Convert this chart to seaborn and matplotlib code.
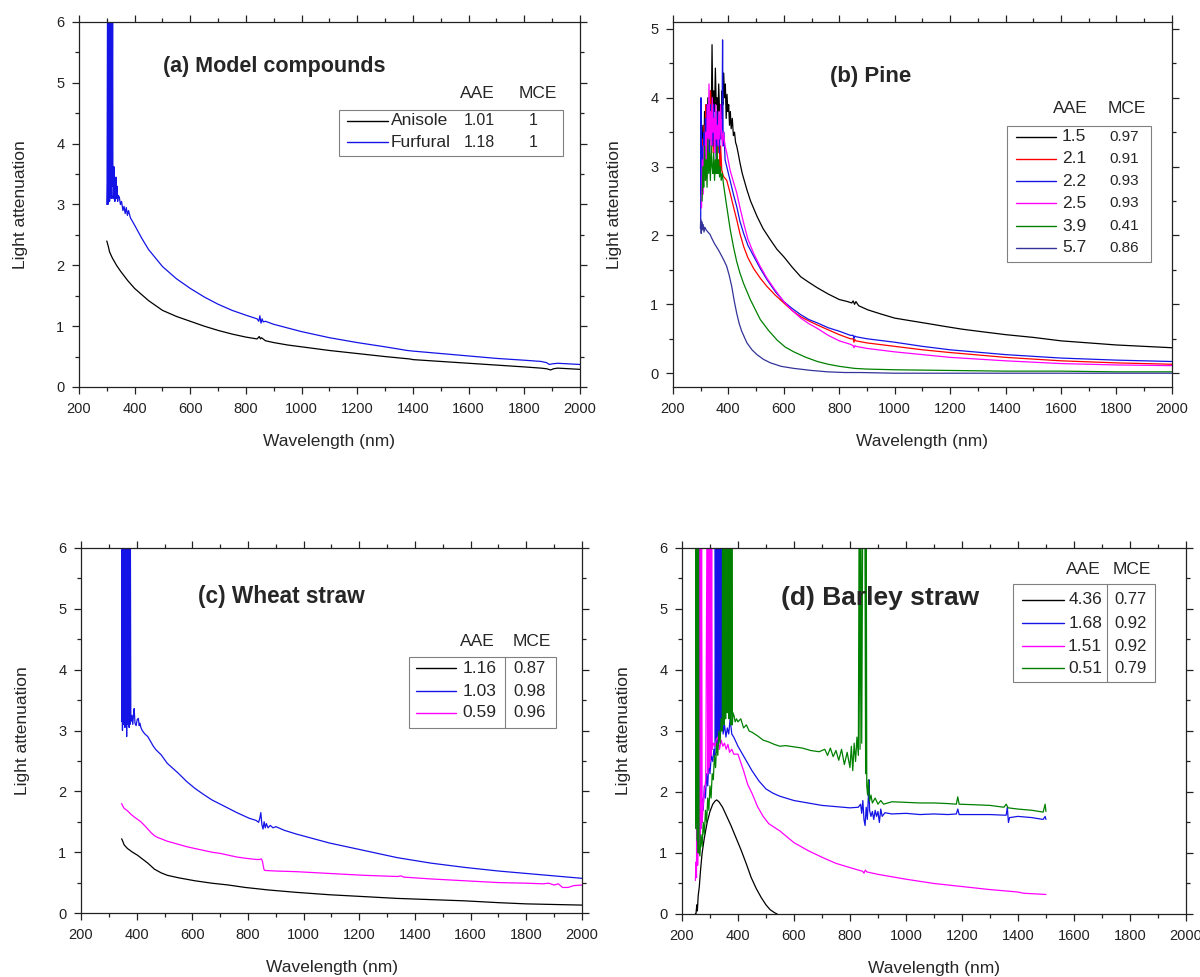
import matplotlib
matplotlib.use("Agg")
import matplotlib.pyplot as plt
import seaborn as sns
from matplotlib.patches import Rectangle
from matplotlib.lines import Line2D
from matplotlib.ticker import MultipleLocator

sns.set_style("ticks")
plt.rcParams['font.family'] = ['Liberation Sans', 'DejaVu Sans']

# ---------------- data (wavelength nm, light attenuation) ----------------
# (a) model compounds
anisole = [(300, 2.40), (303, 2.35), (306, 2.30), (310, 2.22), (320, 2.12), (335, 2.00), (350, 1.90),
           (375, 1.75), (400, 1.62), (450, 1.42), (500, 1.26), (550, 1.16), (600, 1.08), (650, 1.00),
           (700, 0.93), (750, 0.87), (800, 0.82), (840, 0.79), (848, 0.83), (852, 0.79), (856, 0.81),
           (870, 0.76), (900, 0.73), (950, 0.69), (1000, 0.66), (1100, 0.60), (1200, 0.55), (1300, 0.50),
           (1390, 0.46), (1400, 0.45), (1500, 0.42), (1600, 0.39), (1700, 0.36), (1800, 0.33),
           (1860, 0.31), (1880, 0.30), (1895, 0.28), (1905, 0.30), (1920, 0.31), (2000, 0.29)]
furfural = [(300, 3.0), (301, 3.35), (303, 7), (304, 3.0), (306, 7), (307, 3.1), (309, 7), (310, 3.05),
            (312, 7), (313, 3.2), (315, 7), (316, 3.1), (318, 7), (319, 3.3), (321, 7), (322, 3.1),
            (324, 3.15), (326, 3.62), (327, 3.1), (329, 3.05), (331, 3.1), (333, 3.45), (335, 3.1),
            (337, 3.3), (339, 3.05), (341, 3.15), (345, 3.12), (349, 3.0), (353, 3.05), (358, 2.9),
            (362, 2.97), (366, 2.85), (370, 2.95), (374, 2.82), (378, 2.9), (385, 2.78), (390, 2.74),
            (400, 2.66), (425, 2.45), (450, 2.26), (475, 2.12), (500, 1.98), (550, 1.78), (600, 1.62),
            (650, 1.48), (700, 1.36), (750, 1.26), (800, 1.18), (840, 1.12), (846, 1.08), (850, 1.17),
            (854, 1.05), (858, 1.12), (862, 1.07), (870, 1.08), (900, 1.03), (950, 0.97), (1000, 0.91),
            (1100, 0.81), (1200, 0.73), (1300, 0.66), (1380, 0.60), (1400, 0.59), (1500, 0.55),
            (1600, 0.51), (1700, 0.47), (1800, 0.44), (1860, 0.42), (1880, 0.40), (1890, 0.37),
            (1900, 0.38), (1920, 0.39), (2000, 0.37)]

# (b) pine
pine_15 = [(305, 3.2), (308, 3.6), (311, 3.0), (314, 3.8), (317, 3.3), (320, 3.9), (323, 3.4), (326, 4.0),
           (329, 3.5), (332, 3.7), (335, 4.1), (338, 3.6), (341, 4.77), (344, 3.7), (347, 4.1), (350, 3.8),
           (353, 4.43), (356, 3.9), (359, 4.0), (362, 3.6), (365, 4.2), (368, 3.8), (371, 3.9), (374, 3.7),
           (377, 4.1), (380, 3.9), (383, 4.36), (386, 4.0), (389, 4.2), (392, 3.7), (395, 4.05), (398, 3.8),
           (401, 3.9), (404, 3.6), (407, 3.8), (410, 3.55), (414, 3.7), (418, 3.45), (422, 3.5), (426, 3.35),
           (430, 3.3), (435, 3.2), (442, 3.05), (450, 2.9), (467, 2.66), (480, 2.5), (503, 2.28), (525, 2.1),
           (551, 1.94), (575, 1.8), (600, 1.69), (630, 1.54), (661, 1.40), (690, 1.32), (721, 1.24),
           (760, 1.15), (800, 1.07), (830, 1.04), (845, 1.02), (850, 1.05), (855, 1.0), (860, 1.04),
           (870, 0.98), (903, 0.92), (950, 0.86), (1000, 0.80), (1060, 0.76), (1121, 0.72), (1180, 0.68),
           (1242, 0.64), (1300, 0.61), (1400, 0.56), (1500, 0.52), (1600, 0.47), (1700, 0.44),
           (1800, 0.41), (1900, 0.39), (2000, 0.37)]
pine_21 = [(303, 2.6), (306, 3.4), (309, 2.8), (312, 3.6), (315, 3.0), (318, 3.9), (321, 3.2), (324, 3.7),
           (327, 3.1), (330, 3.8), (333, 3.3), (336, 4.1), (339, 3.4), (342, 3.9), (345, 3.2), (348, 3.6),
           (351, 3.3), (354, 3.8), (357, 3.1), (360, 3.5), (363, 3.2), (366, 3.7), (369, 3.0), (372, 3.3),
           (376, 2.95), (382, 2.86), (394, 2.8), (406, 2.62), (418, 2.42), (430, 2.23), (442, 2.02),
           (455, 1.84), (470, 1.68), (491, 1.52), (515, 1.38), (539, 1.26), (570, 1.13), (600, 1.02),
           (630, 0.91), (661, 0.82), (690, 0.76), (721, 0.70), (760, 0.63), (800, 0.56), (840, 0.50),
           (850, 0.50), (853, 0.45), (856, 0.49), (860, 0.47), (900, 0.44), (1000, 0.39), (1100, 0.34),
           (1200, 0.30), (1400, 0.23), (1600, 0.18), (1800, 0.15), (2000, 0.13)]
pine_22 = [(300, 2.1), (301, 4.0), (302, 2.6), (305, 3.3), (308, 2.7), (311, 3.5), (314, 2.9), (317, 3.7),
           (320, 3.1), (323, 3.9), (326, 3.3), (329, 3.6), (332, 3.2), (335, 3.9), (338, 3.4), (341, 3.7),
           (344, 3.3), (347, 3.9), (350, 3.4), (353, 3.6), (356, 3.1), (359, 3.8), (362, 3.3), (365, 3.5),
           (368, 3.2), (371, 3.7), (374, 3.4), (377, 3.6), (379, 4.84), (381, 3.3), (384, 3.5), (388, 3.1),
           (394, 3.0), (406, 2.8), (418, 2.6), (430, 2.42), (442, 2.2), (455, 2.03), (470, 1.86),
           (491, 1.70), (515, 1.52), (539, 1.36), (570, 1.18), (600, 1.04), (630, 0.94), (661, 0.85),
           (690, 0.78), (721, 0.73), (760, 0.66), (800, 0.61), (840, 0.55), (850, 0.55), (853, 0.50),
           (856, 0.54), (860, 0.53), (900, 0.50), (1000, 0.45), (1100, 0.39), (1200, 0.34), (1400, 0.27),
           (1600, 0.22), (1800, 0.19), (2000, 0.17)]
pine_25 = [(303, 2.4), (306, 3.1), (309, 2.6), (312, 3.3), (315, 2.8), (318, 3.5), (321, 3.0), (324, 3.9),
           (327, 3.2), (330, 4.2), (333, 3.4), (336, 3.8), (339, 3.3), (342, 4.0), (345, 3.5), (348, 3.7),
           (351, 3.2), (354, 3.9), (357, 3.4), (360, 3.6), (363, 3.3), (366, 3.8), (369, 3.4), (372, 3.9),
           (375, 3.5), (378, 3.3), (382, 3.5), (388, 3.3), (394, 3.2), (406, 2.95), (418, 2.78),
           (430, 2.62), (442, 2.4), (455, 2.18), (470, 1.95), (491, 1.74), (515, 1.55), (539, 1.38),
           (570, 1.2), (600, 1.04), (630, 0.91), (661, 0.80), (690, 0.72), (721, 0.65), (760, 0.55),
           (800, 0.47), (840, 0.42), (850, 0.40), (853, 0.37), (856, 0.40), (860, 0.39), (900, 0.36),
           (1000, 0.31), (1100, 0.27), (1200, 0.23), (1400, 0.18), (1600, 0.14), (1800, 0.12), (2000, 0.11)]
pine_39 = [(305, 2.5), (308, 3.0), (311, 2.7), (314, 3.3), (317, 2.8), (320, 3.1), (323, 2.7), (326, 3.4),
           (329, 2.9), (332, 3.2), (335, 2.8), (338, 3.3), (341, 3.0), (344, 2.9), (347, 3.2), (350, 2.8),
           (353, 3.1), (356, 2.9), (359, 3.3), (362, 2.9), (365, 3.1), (368, 2.85), (371, 3.0), (374, 2.8),
           (378, 2.9), (382, 2.75), (394, 2.42), (406, 2.1), (418, 1.84), (430, 1.62), (442, 1.45),
           (455, 1.3), (479, 1.07), (500, 0.9), (515, 0.78), (545, 0.62), (576, 0.48), (605, 0.38),
           (636, 0.31), (680, 0.23), (721, 0.17), (760, 0.13), (800, 0.10), (855, 0.07), (900, 0.06),
           (1000, 0.05), (1200, 0.04), (1400, 0.03), (1600, 0.03), (1800, 0.02), (2000, 0.02)]
pine_57 = [(299, 2.1), (300, 2.23), (302, 2.03), (304, 2.2), (306, 2.08), (309, 2.16), (312, 2.05),
           (315, 2.12), (320, 2.08), (326, 2.05), (333, 2.02), (340, 1.96), (350, 1.88), (364, 1.79),
           (376, 1.70), (385, 1.63), (394, 1.55), (403, 1.42), (412, 1.26), (421, 1.05), (430, 0.87),
           (439, 0.72), (448, 0.61), (458, 0.52), (467, 0.44), (485, 0.34), (503, 0.27), (527, 0.20),
           (552, 0.15), (590, 0.10), (636, 0.07), (700, 0.04), (758, 0.02), (820, 0.01), (879, 0.01),
           (1000, 0.0), (1500, 0.0), (2000, 0.0)]

# (c) wheat straw
wheat_116 = [(346, 1.22), (350, 1.18), (355, 1.12), (367, 1.06), (385, 1.0), (403, 0.95), (420, 0.89),
             (440, 0.82), (452, 0.77), (464, 0.72), (476, 0.69), (488, 0.66), (510, 0.62), (549, 0.58),
             (609, 0.53), (670, 0.49), (730, 0.46), (790, 0.42), (851, 0.39), (870, 0.38), (972, 0.34),
             (1093, 0.30), (1215, 0.27), (1336, 0.24), (1457, 0.22), (1578, 0.20), (1700, 0.17),
             (1800, 0.15), (1900, 0.14), (2000, 0.13)]
wheat_103 = [(346, 3.15), (347, 7), (349, 3.0), (350, 7), (352, 3.1), (353, 7), (355, 3.2), (356, 7),
             (358, 3.05), (359, 7), (361, 3.3), (362, 7), (364, 2.9), (365, 7), (367, 3.1), (368, 7),
             (370, 3.2), (371, 7), (373, 3.05), (374, 7), (376, 3.1), (377, 7), (379, 3.15), (383, 3.25),
             (386, 3.1), (389, 3.28), (391, 3.36), (394, 3.12), (398, 3.08), (402, 3.18), (406, 3.2),
             (409, 3.08), (412, 3.12), (415, 3.05), (420, 3.0), (428, 2.95), (440, 2.9), (450, 2.82),
             (460, 2.74), (470, 2.68), (488, 2.6), (510, 2.46), (549, 2.3), (580, 2.16), (609, 2.05),
             (640, 1.95), (670, 1.86), (700, 1.79), (730, 1.72), (760, 1.65), (803, 1.56), (830, 1.52),
             (838, 1.49), (842, 1.55), (846, 1.65), (850, 1.45), (854, 1.38), (858, 1.5), (862, 1.4),
             (866, 1.47), (872, 1.4), (880, 1.44), (890, 1.4), (900, 1.42), (930, 1.36), (972, 1.3),
             (1093, 1.15), (1215, 1.03), (1336, 0.91), (1457, 0.82), (1578, 0.75), (1700, 0.69),
             (1800, 0.65), (1900, 0.61), (2000, 0.57)]
wheat_059 = [(346, 1.8), (350, 1.76), (355, 1.72), (367, 1.68), (380, 1.62), (391, 1.58), (403, 1.54),
             (415, 1.5), (428, 1.44), (440, 1.38), (452, 1.32), (464, 1.27), (476, 1.24), (488, 1.22),
             (510, 1.18), (549, 1.13), (580, 1.09), (609, 1.06), (640, 1.03), (670, 1.0), (700, 0.98),
             (730, 0.95), (760, 0.92), (791, 0.9), (830, 0.88), (842, 0.88), (848, 0.89), (852, 0.85),
             (857, 0.72), (860, 0.7), (900, 0.69), (972, 0.68), (1093, 0.65), (1215, 0.62), (1336, 0.6),
             (1350, 0.61), (1360, 0.59), (1457, 0.56), (1578, 0.53), (1700, 0.5), (1800, 0.49),
             (1860, 0.48), (1880, 0.49), (1900, 0.46), (1915, 0.48), (1930, 0.42), (1950, 0.42),
             (1970, 0.45), (2000, 0.46)]

# (d) barley straw
barley_436 = [(248, 0.0), (250, 0.0), (253, 0.15), (255, 0.05), (258, 0.3), (262, 0.45), (266, 0.7),
              (272, 1.0), (280, 1.25), (290, 1.5), (300, 1.68), (310, 1.8), (318, 1.85), (324, 1.87),
              (332, 1.84), (345, 1.75), (360, 1.6), (375, 1.45), (393, 1.25), (411, 1.05), (430, 0.82),
              (447, 0.6), (465, 0.42), (483, 0.27), (500, 0.15), (515, 0.07), (531, 0.02), (540, 0.0)]
barley_168 = [(268, 1.6), (272, 1.9), (276, 1.7), (280, 2.1), (284, 1.9), (288, 2.3), (292, 2.1),
              (296, 2.5), (300, 2.3), (305, 2.6), (310, 2.5), (314, 2.7), (318, 2.6), (319, 7), (321, 2.8),
              (322, 7), (324, 2.7), (325, 7), (327, 2.9), (328, 7), (330, 2.8), (331, 7), (333, 3.0),
              (334, 7), (336, 2.9), (337, 7), (339, 3.1), (340, 7), (342, 3.0), (343, 7), (345, 3.5),
              (347, 2.95), (352, 3.1), (357, 2.9), (362, 3.05), (367, 2.95), (372, 3.2), (378, 2.95),
              (385, 2.9), (400, 2.75), (425, 2.55), (450, 2.35), (475, 2.18), (500, 2.05), (525, 1.98),
              (550, 1.93), (600, 1.86), (650, 1.82), (700, 1.78), (750, 1.76), (800, 1.74), (830, 1.75),
              (838, 1.8), (842, 1.65), (846, 1.86), (850, 1.55), (854, 1.45), (858, 1.75), (862, 1.55),
              (866, 1.95), (868, 2.2), (870, 1.7), (875, 1.6), (880, 1.68), (885, 1.55), (890, 1.7),
              (895, 1.6), (900, 1.68), (905, 1.5), (910, 1.72), (915, 1.6), (925, 1.66), (950, 1.64),
              (1000, 1.65), (1050, 1.63), (1100, 1.64), (1150, 1.63), (1180, 1.64), (1185, 1.72),
              (1190, 1.63), (1250, 1.63), (1300, 1.63), (1350, 1.62), (1358, 1.62), (1362, 1.75),
              (1366, 1.5), (1370, 1.58), (1400, 1.6), (1450, 1.58), (1490, 1.55), (1497, 1.6), (1500, 1.55)]
barley_151 = [(248, 0.55), (250, 0.85), (252, 0.6), (254, 7), (256, 0.8), (258, 7), (260, 1.0), (262, 7),
              (264, 1.2), (266, 7), (268, 1.4), (270, 7), (272, 1.5), (276, 1.8), (280, 2.0), (285, 2.2),
              (290, 7), (292, 2.3), (294, 7), (296, 2.4), (298, 7), (300, 2.5), (302, 7), (304, 2.6),
              (306, 7), (308, 2.7), (312, 2.8), (318, 2.75), (322, 2.85), (328, 2.9), (334, 2.7),
              (340, 2.85), (346, 2.75), (352, 2.8), (358, 2.7), (364, 2.78), (370, 2.65), (378, 2.7),
              (385, 2.62), (400, 2.62), (420, 2.35), (435, 2.12), (450, 1.98), (470, 1.76), (490, 1.6),
              (510, 1.48), (550, 1.36), (600, 1.17), (650, 1.04), (700, 0.93), (750, 0.83), (800, 0.76),
              (845, 0.7), (850, 0.67), (855, 0.72), (860, 0.69), (900, 0.65), (1000, 0.57), (1100, 0.5),
              (1200, 0.45), (1300, 0.4), (1400, 0.36), (1420, 0.34), (1500, 0.32)]
barley_051 = [(249, 1.4), (250, 7), (252, 1.5), (253, 7), (255, 1.2), (256, 7), (258, 1.0), (259, 7),
              (261, 1.1), (264, 0.95), (268, 1.3), (272, 1.1), (276, 1.5), (280, 1.3), (284, 1.7),
              (288, 1.5), (292, 1.9), (296, 1.7), (300, 2.1), (304, 1.9), (308, 2.3), (312, 2.2),
              (316, 2.6), (320, 2.4), (324, 2.8), (328, 2.6), (332, 3.0), (336, 2.8), (340, 3.2),
              (344, 3.0), (345, 7), (347, 3.3), (348, 7), (350, 3.1), (351, 7), (353, 3.5), (354, 7),
              (356, 3.2), (357, 7), (359, 3.6), (360, 7), (362, 3.3), (363, 7), (365, 3.7), (366, 7),
              (368, 3.2), (369, 7), (371, 3.4), (372, 7), (374, 3.1), (375, 7), (377, 3.3), (378, 7),
              (380, 3.1), (382, 3.3), (386, 3.25), (390, 3.15), (395, 3.2), (400, 3.15), (410, 3.2),
              (420, 3.05), (430, 3.1), (440, 3.0), (450, 2.98), (470, 2.92), (490, 2.85), (510, 2.82),
              (530, 2.78), (550, 2.75), (570, 2.76), (600, 2.74), (630, 2.72), (660, 2.68), (690, 2.66),
              (710, 2.7), (720, 2.6), (730, 2.72), (740, 2.58), (750, 2.68), (760, 2.52), (770, 2.7),
              (780, 2.45), (790, 2.65), (800, 2.4), (805, 2.75), (810, 2.35), (815, 2.8), (820, 2.5),
              (825, 2.9), (830, 2.6), (833, 7), (836, 2.7), (839, 7), (842, 2.8), (846, 7), (850, 7),
              (853, 7), (856, 2.3), (858, 7), (860, 2.1), (863, 1.95), (866, 2.2), (870, 1.85),
              (875, 1.95), (880, 1.82), (890, 1.9), (900, 1.8), (910, 1.86), (920, 1.8), (950, 1.84),
              (1000, 1.83), (1050, 1.82), (1100, 1.82), (1150, 1.81), (1180, 1.8), (1185, 1.92),
              (1190, 1.8), (1250, 1.79), (1300, 1.78), (1350, 1.75), (1358, 1.8), (1365, 1.74),
              (1400, 1.72), (1450, 1.7), (1490, 1.67), (1497, 1.8), (1500, 1.68)]

a_names = ["Anisole", "Furfural"]
a_aae = ["1.01", "1.18"]
a_mce = ["1", "1"]
b_aae = ["1.5", "2.1", "2.2", "2.5", "3.9", "5.7"]
b_mce = ["0.97", "0.91", "0.93", "0.93", "0.41", "0.86"]
c_aae = ["1.16", "1.03", "0.59"]
c_mce = ["0.87", "0.98", "0.96"]
d_aae = ["4.36", "1.68", "1.51", "0.51"]
d_mce = ["0.77", "0.92", "0.92", "0.79"]

BLACK, BLUE, RED, MAG, GREEN, NAVY = "black", "#1414e6", "#ff0000", "#ff00ff", "#008000", "#333399"


def draw(ax, series, colors):
    for s, c in zip(series, colors):
        x = [p[0] for p in s]
        y = [p[1] for p in s]
        sns.lineplot(x=x, y=y, color=c, lw=0.9, ax=ax, estimator=None, sort=False)


def style(ax, ylim, ymajor):
    ax.set_xlim(200, 2000)
    ax.set_ylim(*ylim)
    ax.xaxis.set_major_locator(MultipleLocator(200))
    ax.xaxis.set_minor_locator(MultipleLocator(100))
    ax.yaxis.set_major_locator(MultipleLocator(ymajor))
    ax.yaxis.set_minor_locator(MultipleLocator(ymajor / 2))
    ax.tick_params(which='both', direction='out', top=True, right=True, width=0.9, colors='#222222')
    ax.tick_params(which='major', length=5, labelsize=10.5, pad=5.5)
    ax.tick_params(which='minor', length=3)
    for sp in ax.spines.values():
        sp.set_visible(True)
        sp.set_linewidth(0.9)
        sp.set_color('#222222')
    ax.set_xlabel("Wavelength (nm)", fontsize=12.5, labelpad=13)
    ax.set_ylabel("Light attenuation", fontsize=12.5, labelpad=20)


def table_legend(ax, box, line_x, rows_y, colors, columns, header, divider=None):
    x0, y0, x1, y1 = box
    ax.add_patch(Rectangle((x0, y0), x1 - x0, y1 - y0, transform=ax.transAxes, facecolor='white',
                           edgecolor='#808080', lw=0.8, zorder=5))
    for c, y in zip(colors, rows_y):
        ax.add_line(Line2D(line_x, [y, y], transform=ax.transAxes, color=c, lw=1, zorder=6))
    for cx, ha, fs, texts in columns:
        for t, y in zip(texts, rows_y):
            ax.text(cx, y, t, transform=ax.transAxes, ha=ha, va='center', fontsize=fs, zorder=7)
    for cx, cy, fs, t in header:
        ax.text(cx, cy, t, transform=ax.transAxes, ha='center', va='center', fontsize=fs)
    if divider is not None:
        ax.add_line(Line2D([divider, divider], [y0, y1], transform=ax.transAxes, color='#808080',
                           lw=0.8, zorder=6))


fig = plt.figure(figsize=(12, 9.77), dpi=100)
ax_a = fig.add_axes([0.0658, 0.6039, 0.4175, 0.3736])
ax_b = fig.add_axes([0.5608, 0.6039, 0.4158, 0.3736])
ax_c = fig.add_axes([0.0675, 0.0655, 0.4175, 0.3736])
ax_d = fig.add_axes([0.5683, 0.0645, 0.4200, 0.3746])

# (a)
draw(ax_a, [anisole, furfural], [BLACK, BLUE])
style(ax_a, (0, 6), 1)
ax_a.text(0.389, 0.877, "(a) Model compounds", transform=ax_a.transAxes, ha='center', va='center',
          fontsize=15.5, fontweight='bold')
table_legend(ax_a, (0.519, 0.633, 0.966, 0.759), [0.535, 0.617], [0.729, 0.671], [BLACK, BLUE],
             [(0.623, 'left', 12.5, a_names), (0.80, 'center', 11.5, a_aae), (0.907, 'center', 11.5, a_mce)],
             [(0.795, 0.805, 12.5, "AAE"), (0.916, 0.805, 12.5, "MCE")])

# (b)
draw(ax_b, [pine_15, pine_21, pine_22, pine_25, pine_39, pine_57], [BLACK, RED, BLUE, MAG, GREEN, NAVY])
style(ax_b, (-0.2, 5.1), 1)
ax_b.text(0.396, 0.85, "(b) Pine", transform=ax_b.transAxes, ha='center', va='center',
          fontsize=16, fontweight='bold')
table_legend(ax_b, (0.669, 0.342, 0.958, 0.715), [0.687, 0.768],
             [0.685, 0.625, 0.564, 0.504, 0.441, 0.381], [BLACK, RED, BLUE, MAG, GREEN, NAVY],
             [(0.804, 'center', 12.5, b_aae), (0.904, 'center', 11, b_mce)],
             [(0.796, 0.764, 12.5, "AAE"), (0.91, 0.764, 12.5, "MCE")])

# (c)
draw(ax_c, [wheat_116, wheat_103, wheat_059], [BLACK, BLUE, MAG])
style(ax_c, (0, 6), 1)
ax_c.text(0.40, 0.866, "(c) Wheat straw", transform=ax_c.transAxes, ha='center', va='center',
          fontsize=16.3, fontweight='bold')
table_legend(ax_c, (0.655, 0.507, 0.948, 0.701), [0.669, 0.749], [0.671, 0.608, 0.548],
             [BLACK, BLUE, MAG],
             [(0.796, 'center', 12.5, c_aae), (0.896, 'center', 12, c_mce)],
             [(0.792, 0.745, 12.5, "AAE"), (0.90, 0.745, 12.5, "MCE")], divider=0.846)

# (d)
draw(ax_d, [barley_436, barley_168, barley_151, barley_051], [BLACK, BLUE, MAG, GREEN])
style(ax_d, (0, 6), 1)
ax_d.text(0.393, 0.863, "(d) Barley straw", transform=ax_d.transAxes, ha='center', va='center',
          fontsize=19, fontweight='bold')
table_legend(ax_d, (0.657, 0.634, 0.938, 0.902), [0.674, 0.758], [0.858, 0.795, 0.732, 0.672],
             [BLACK, BLUE, MAG, GREEN],
             [(0.80, 'center', 12.5, d_aae), (0.89, 'center', 12, d_mce)],
             [(0.797, 0.94, 12.5, "AAE"), (0.893, 0.94, 12.5, "MCE")], divider=0.844)

fig.savefig("out.png", dpi=100)
